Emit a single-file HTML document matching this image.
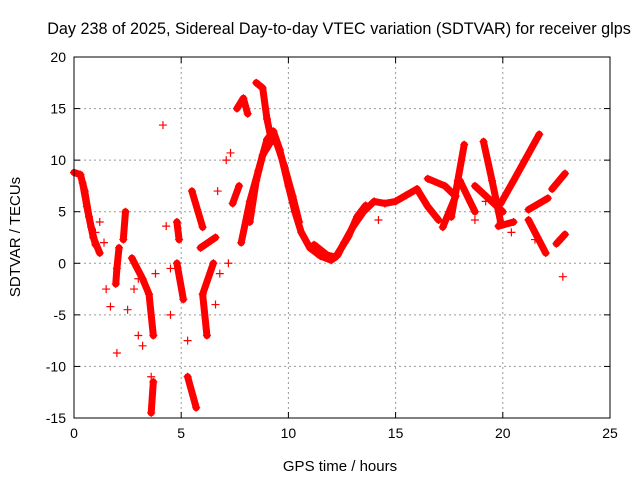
<!DOCTYPE html>
<html><head><meta charset="utf-8"><style>
body{margin:0;background:#fff;}
svg{display:block;font-family:"Liberation Sans",sans-serif;}
</style></head><body>
<svg id="chart" width="640" height="480" viewBox="0 0 640 480" xmlns="http://www.w3.org/2000/svg">
<rect width="640" height="480" fill="#fff"/>
<text x="339" y="34" font-size="16.2" text-anchor="middle" fill="#000">Day 238 of 2025, Sidereal Day-to-day VTEC variation (SDTVAR) for receiver glps</text>
<text x="340" y="471" font-size="15" text-anchor="middle" fill="#000">GPS time / hours</text>
<text x="20" y="237" font-size="15" text-anchor="middle" fill="#000" transform="rotate(-90 20 237)">SDTVAR / TECUs</text>
<g id="grid"></g><g id="marks"></g><g id="axes"></g>
</svg>
<script>
const xTicks=[0,5,10,15,20,25];
const yTicks=[-15,-10,-5,0,5,10,15,20];
const tracks=[
[[0,8.8],[0.3,8.6],[0.5,7],[0.7,4.5],[0.9,2.5],[1.2,1]],
[[0.4,7.8],[0.6,5.5],[0.8,3.5],[1.0,1.8]],
[[7.8,2],[8.2,6],[8.6,9],[9.0,12],[9.3,12.8],[9.6,11],[10,7.5],[10.3,5],[10.6,3],[11,1.5],[11.5,0.7],[12,0.3],[12.3,0.8],[12.6,2],[13,3.5],[13.5,5],[14,6],[14.5,5.8],[15,6],[15.5,6.6],[16,7.2]],
[[9.0,11.5],[9.4,12],[9.8,9.5],[10.2,6.5],[10.5,4]],
[[11.2,1.8],[11.8,0.8],[12.2,0.6],[12.8,2.6],[13.2,4.5],[13.6,5.6]],
[[8.5,17.5],[8.8,17],[9.0,14],[9.2,12]],
[[7.6,15],[7.9,16],[8.1,14.5]],
[[8.2,4],[8.5,8],[8.8,10.5],[9.1,11.5]],
[[16,7.2],[16.5,5.5],[17,4.2]],
[[16.5,8.2],[17.3,7.5],[17.8,6.5],[17.5,5],[17.2,3.5]],
[[17.6,4.5],[17.9,8],[18.2,11.5]],
[[18,8],[18.7,5]],
[[19.1,11.8],[19.5,8],[19.9,4]],
[[18.7,7.5],[20,5]],
[[19.9,5.8],[20.5,8],[21.7,12.5]],
[[19.8,3.6],[20.5,4]],
[[21.2,5.2],[22.1,6.3]],
[[21.2,4.2],[22,1]],
[[22.3,7.2],[22.9,8.7]],
[[22.5,1.9],[22.9,2.8]],
[[2.1,1.5],[2.0,-0.5],[1.95,-2]],
[[2.4,5],[2.3,2.3]],
[[2.7,0.5],[3.2,-1.5],[3.5,-3],[3.7,-7]],
[[3.7,-11.5],[3.6,-14.5]],
[[4.8,4],[4.9,2.3]],
[[4.8,0],[5.1,-3.5]],
[[5.3,-11],[5.7,-14]],
[[5.5,7],[6,3.5]],
[[6.2,-7],[6,-3],[6.5,0]],
[[5.9,1.5],[6.6,2.5]],
[[7.4,5.8],[7.7,7.5]]
];
const scatterX=[22.8,4.15,2,1.7,3,4.3,7.1,7.3,6.7,1.5,2.5,3.2,3.0,2.8,3.8,4.5,4.5,6.8,6.6,7.2,1.4,1.2,1.0,5.3,18.7,19.2,14.2,20.4,21.5,3.6];
const scatterY=[-1.3,13.4,-8.7,-4.2,-7,3.6,10,10.7,7,-2.5,-4.5,-8,-1.5,-2.5,-1,-0.5,-5,-1,-4,0,2,4,3,-7.5,4.2,6,4.2,3,2.3,-11];
const X0=74,X1=610,Y0=418,Y1=57;
const sx=h=>X0+(h-0)/25*(X1-X0);
const sy=v=>Y0-(v+15)/35*(Y0-Y1);
const NS="http://www.w3.org/2000/svg";
function mk(t,a,p){const e=document.createElementNS(NS,t);for(const k in a)e.setAttribute(k,a[k]);p.appendChild(e);return e;}
const grid=document.getElementById('grid'),marks=document.getElementById('marks'),axes=document.getElementById('axes');
xTicks.forEach(t=>{
 if(t>0&&t<25){const g=mk('line',{x1:sx(t),x2:sx(t),y1:Y1,y2:Y0,stroke:'#999','stroke-dasharray':'2,3'},grid);
 
 }
 mk('line',{x1:sx(t),x2:sx(t),y1:Y0,y2:Y0-6,stroke:'#000'},axes);
 mk('line',{x1:sx(t),x2:sx(t),y1:Y1,y2:Y1+6,stroke:'#000'},axes);
 const l=mk('text',{x:sx(t),y:Y0+20,'font-size':14,'text-anchor':'middle'},axes);l.textContent=t;
 
 
});
yTicks.forEach(t=>{
 if(t>-15&&t<20){const g=mk('line',{x1:X0,x2:X1,y1:sy(t),y2:sy(t),stroke:'#999','stroke-dasharray':'2,3'},grid);
 
 }
 mk('line',{x1:X0,x2:X0+6,y1:sy(t),y2:sy(t),stroke:'#000'},axes);
 mk('line',{x1:X1,x2:X1-6,y1:sy(t),y2:sy(t),stroke:'#000'},axes);
 const l=mk('text',{x:X0-8,y:sy(t)+5,'font-size':14,'text-anchor':'end'},axes);l.textContent=t;
 
 
});
const fr=mk('rect',{x:X0,y:Y1,width:X1-X0,height:Y0-Y1,fill:'none',stroke:'#000'},axes);


function plus(h,v){const x=sx(h),y=sy(v);
 const p=mk('path',{d:`M${x-4} ${y}H${x+4}M${x} ${y-4}V${y+4}`,stroke:'#f00','stroke-width':1.2},marks);
 
 }
tracks.forEach(tr=>{
 const pl=mk('polyline',{points:tr.map(p=>sx(p[0])+','+sy(p[1])).join(' '),fill:'none',stroke:'#f00','stroke-width':7,'stroke-linejoin':'round','stroke-linecap':'round'},marks);
 
 
 tr.forEach(p=>plus(p[0],p[1]));
});
scatterX.forEach((h,i)=>plus(h,scatterY[i]));
</script>
</body></html>
